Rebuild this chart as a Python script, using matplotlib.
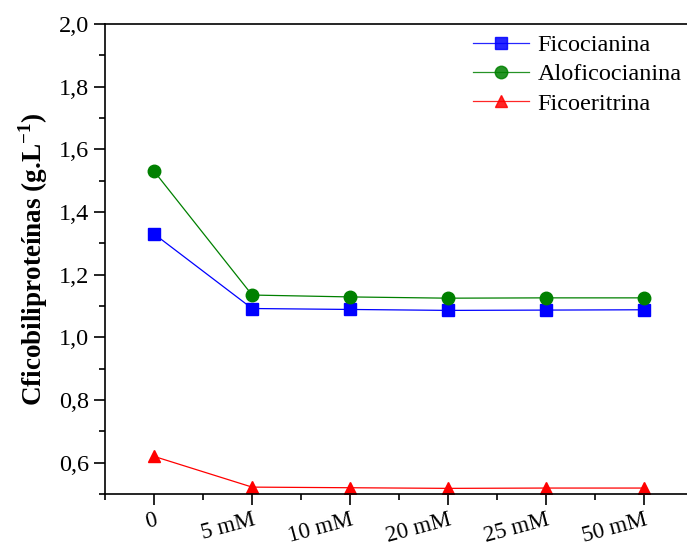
import matplotlib.pyplot as plt
import numpy as np
from matplotlib.ticker import MultipleLocator, FuncFormatter

plt.rcParams['font.family'] = ['Liberation Serif', 'DejaVu Serif']

categories = ['0', '5 mM', '10 mM', '20 mM', '25 mM', '50 mM']
ficocianina = [1.33, 1.092, 1.089, 1.086, 1.087, 1.088]
aloficocianina = [1.53, 1.135, 1.129, 1.125, 1.126, 1.126]
ficoeritrina = [0.62, 0.522, 0.520, 0.518, 0.519, 0.519]

fig = plt.figure(figsize=(6.87, 5.56), dpi=100)
ax = fig.add_axes([0.153, 0.1115, 0.856, 0.8453])

x = np.arange(len(categories))
ax.plot(x, ficocianina, color='blue', marker='s', markersize=8, linewidth=0.9, label='Ficocianina')
ax.plot(x, aloficocianina, color='green', marker='o', markersize=9, linewidth=0.9, label='Aloficocianina')
ax.plot(x, ficoeritrina, color='red', marker='^', markersize=9, linewidth=0.9, label='Ficoeritrina')

ax.set_xlim(-0.5, 5.5)
ax.set_ylim(0.5, 2.0)
ax.set_xticks(x)
ax.set_xticklabels(categories, rotation=15, ha='right', rotation_mode='anchor', fontsize=16.5)
ax.xaxis.set_minor_locator(MultipleLocator(0.5))
ax.yaxis.set_minor_locator(MultipleLocator(0.1))
ax.set_yticks([0.6, 0.8, 1.0, 1.2, 1.4, 1.6, 1.8, 2.0])
ax.yaxis.set_major_formatter(FuncFormatter(lambda v, p: ('%.1f' % v).replace('.', ',')))
ax.tick_params(axis='y', labelsize=17.5)
ax.tick_params(which='major', direction='out', length=8, width=1.2)
ax.tick_params(which='minor', direction='out', length=4, width=1.2)
ax.tick_params(axis='x', which='major', pad=3)
for s in ax.spines.values():
    s.set_linewidth(1.2)

ax.set_ylabel('Cficobiliproteínas (g.L$^{\\mathregular{-1}}$)', fontsize=19.5, fontweight='bold', labelpad=6)

leg = ax.legend(loc='upper right', bbox_to_anchor=(1.018, 1.025), frameon=False, fontsize=17.5,
                handlelength=2.3, numpoints=1, labelspacing=0.3, handletextpad=0.35)
for line in leg.get_lines():
    line.set_alpha(0.85)

fig.savefig('out.png', dpi=100)
